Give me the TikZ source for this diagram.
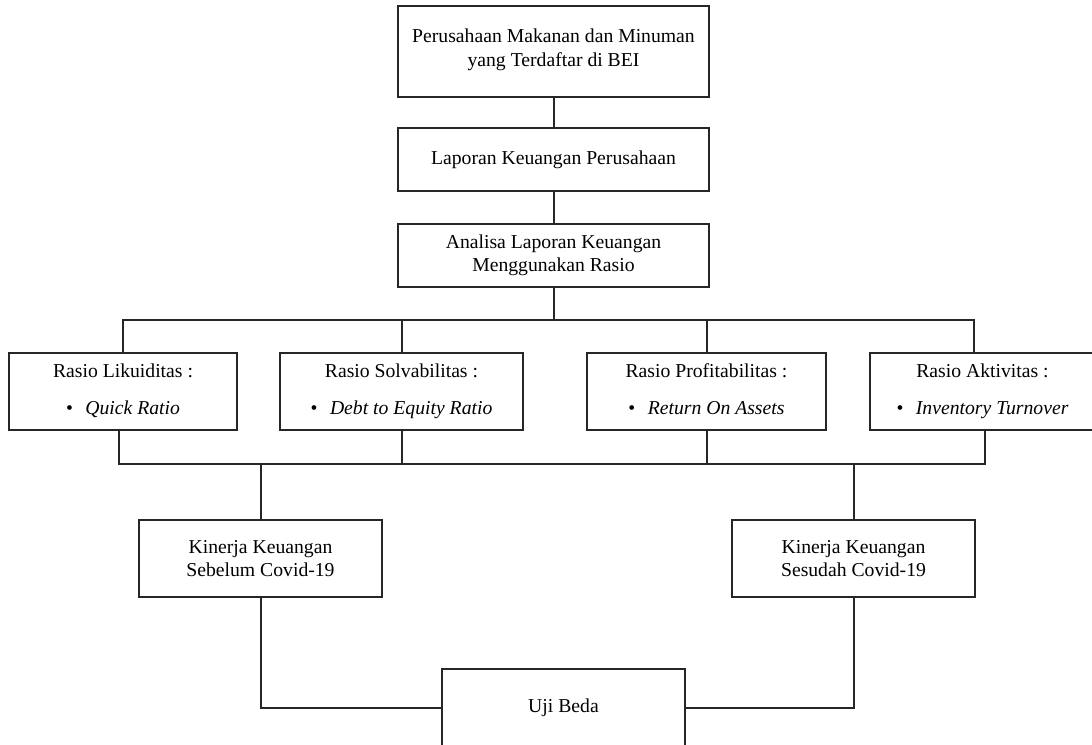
\documentclass[tikz,border=0pt]{standalone}
\usepackage{fontspec}
\setmainfont{Liberation Serif}
\begin{document}
\begin{tikzpicture}[
    box/.style={draw=black!85, line width=0.04cm, align=center, inner sep=0pt},
    link/.style={draw=black!85, line width=0.04cm}]
            \useasboundingbox (0,0) rectangle (21.840000,14.880000);
            {\fontsize{11.2}{13.4}\selectfont

            % Drawing box bei
            \draw (11.070000,13.850000) node [box, minimum width=6.220000cm, minimum height=1.820000cm] (bei) {Perusahaan Makanan dan Minuman\\yang Terdaftar di BEI\rule[-0.16cm]{0pt}{0pt}};%

            % Drawing box lap
            \draw (11.070000,11.690000) node [box, minimum width=6.220000cm, minimum height=1.260000cm] (lap) {Laporan Keuangan Perusahaan};%

            % Drawing box ana
            \draw (11.070000,9.770000) node [box, minimum width=6.220000cm, minimum height=1.260000cm] (ana) {Analisa Laporan Keuangan\\Menggunakan Rasio};%

            % Drawing ratio boxes
            \draw (2.460000,7.050000) node [box, minimum width=4.560000cm, minimum height=1.540000cm] (likuid) {\strut Rasio Likuiditas :\\[7.6pt]\strut\textbullet\hspace{0.25cm}\textit{Quick Ratio}};%
            \draw (8.030000,7.050000) node [box, minimum width=4.860000cm, minimum height=1.540000cm] (solv) {\strut Rasio Solvabilitas :\\[7.6pt]\strut\textbullet\hspace{0.25cm}\textit{Debt to Equity Ratio}};%
            \draw (14.130000,7.050000) node [box, minimum width=4.780000cm, minimum height=1.540000cm] (prof) {\strut Rasio Profitabilitas :\\[7.6pt]\strut\textbullet\hspace{0.25cm}\textit{Return On Assets}};%
            \draw (19.650000,7.050000) node [box, minimum width=4.500000cm, minimum height=1.540000cm] (aktiv) {\strut Rasio Aktivitas :\\[7.6pt]\strut\textbullet\hspace{0.25cm}\textit{Inventory Turnover}};%

            % Drawing box sebelum and sesudah
            \draw (5.210000,3.710000) node [box, minimum width=4.860000cm, minimum height=1.540000cm] (sebelum) {Kinerja Keuangan\\Sebelum Covid-19};%
            \draw (17.070000,3.710000) node [box, minimum width=4.860000cm, minimum height=1.540000cm] (sesudah) {Kinerja Keuangan\\Sesudah Covid-19};%

            % Drawing box uji
            \draw (11.270000,0.720000) node [box, minimum width=4.860000cm, minimum height=1.560000cm] (uji) {Uji Beda};%

            % Marking split points
            \coordinate (split) at (11.070000,8.480000);
            \coordinate (join) at (11.070000,5.600000);

            % Drawing lines
            \draw [link] (bei.south) -- (lap.north);%
            \draw [link] (lap.south) -- (ana.north);%
            \draw [link] (ana.south) -- (split);%
            \draw [link] (likuid.north) |- (split) -| ([xshift=-0.17cm]aktiv.north);%
            \draw [link] (solv.north) -- (solv.north |- split);%
            \draw [link] (prof.north) -- (prof.north |- split);%
            \draw [link] ([xshift=-0.08cm]likuid.south) |- (join) -| ([xshift=0.05cm]aktiv.south);%
            \draw [link] (solv.south) -- (solv.south |- join);%
            \draw [link] (prof.south) -- (prof.south |- join);%
            \draw [link] (sebelum.north) -- (sebelum.north |- join);%
            \draw [link] (sesudah.north) -- (sesudah.north |- join);%
            \draw [link] (sebelum.south) |- (uji.west);%
            \draw [link] (sesudah.south) |- (uji.east);%
            }
\end{tikzpicture}
\end{document}
